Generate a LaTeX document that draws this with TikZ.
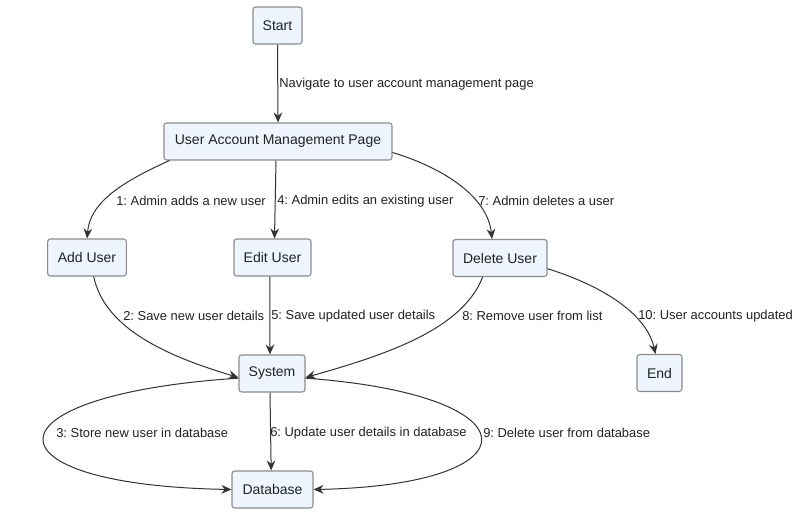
\documentclass[tikz,border=0pt]{standalone}
\usepackage{fontspec}
\setmainfont{Liberation Sans}
\usetikzlibrary{arrows.meta}
\definecolor{nodefill}{HTML}{EEF5FE}
\definecolor{nodeborder}{HTML}{8C8C8C}
\definecolor{linecol}{HTML}{333333}
\definecolor{textcol}{HTML}{222222}
\frenchspacing
\begin{document}
\begin{tikzpicture}[x=0.75pt,y=-0.75pt,
  box/.style={draw=nodeborder, fill=nodefill, rounded corners=2pt, line width=0.8pt,
    minimum height=27.75pt, inner sep=0pt, text=textcol, font=\fontsize{10.5}{12}\selectfont},
  lbl/.style={anchor=west, inner sep=0pt, text=textcol, font=\fontsize{9.7}{11.6}\selectfont},
  conn/.style={draw=linecol, line width=0.75pt, -{Stealth[length=7.5pt,width=6.5pt,inset=2.5pt]}}]
\useasboundingbox (0,0) rectangle (801,514);
\fill[white] (0,0) rectangle (801,514);
% nodes
\node[box, minimum width=36.75pt] (start) at (277.5,25.5) {Start};
\node[box, minimum width=171pt] (uamp) at (278,141.5) {User Account Management Page};
\node[box, minimum width=59pt] (add) at (87,257.5) {Add User};
\node[box, minimum width=57.75pt] (edit) at (272.5,257.5) {Edit User};
\node[box, minimum width=70.5pt] (del) at (500,258) {Delete User};
\node[box, minimum width=33.75pt] (end) at (659.5,373) {End};
\node[box, minimum width=49.5pt] (sys) at (272,373.5) {System};
\node[box, minimum width=60.75pt] (db) at (272.5,489.5) {Database};
% connectors
\draw[conn] (start.south) -- (uamp.north);
\draw[conn] (uamp.south west) ++(6,0) .. controls (115,185) and (90,205) .. (add.north);
\draw[conn] ([xshift=-1.5pt]uamp.south) -- ([xshift=1.5pt]edit.north);
\draw[conn] (uamp.east) ++(0,11) .. controls (450,170) and (488,200) .. ([xshift=-6pt]del.north);
\draw[conn] ([xshift=5pt]add.south) .. controls (105,330) and (170,357) .. ([yshift=-3pt]sys.west);
\draw[conn] ([xshift=-2pt]edit.south) -- ([xshift=-1.5pt]sys.north);
\draw[conn] ([xshift=-13pt]del.south) .. controls (462,330) and (385,355) .. ([yshift=-3pt]sys.east);
\draw[conn] ([yshift=-8pt]del.east) .. controls (615,290) and (648,320) .. ([xshift=-3pt]end.north);
\draw[conn] ([xshift=-1.5pt]sys.south) -- ([xshift=-1pt]db.north);
\draw[conn] ([yshift=-3.5pt]sys.west) .. controls (-20,395) and (-20,485) .. (db.west);
\draw[conn] ([yshift=-3.5pt]sys.east) .. controls (538,395) and (538,485) .. (db.east);
% labels
\node[lbl] (l0) at (279,84) {Navigate to user account management page};
\node[lbl] (l1) at (116,201) {1: Admin adds a new user};
\node[lbl] (l4) at (277,201) {4: Admin edits an existing user};
\node[lbl] (l7) at (478,201) {7: Admin deletes a user};
\node[lbl] (l2) at (123,316) {2: Save new user details};
\node[lbl] (l5) at (271,316) {5: Save updated user details};
\node[lbl] (l8) at (462,316) {8: Remove user from list};
\node[lbl] (l10) at (638,316) {10: User accounts updated};
\node[lbl] (l3) at (56,433) {3: Store new user in database};
\node[lbl] (l6) at (270,433) {6: Update user details in database};
\node[lbl] (l9) at (483,433) {9: Delete user from database};
\end{tikzpicture}
\end{document}
